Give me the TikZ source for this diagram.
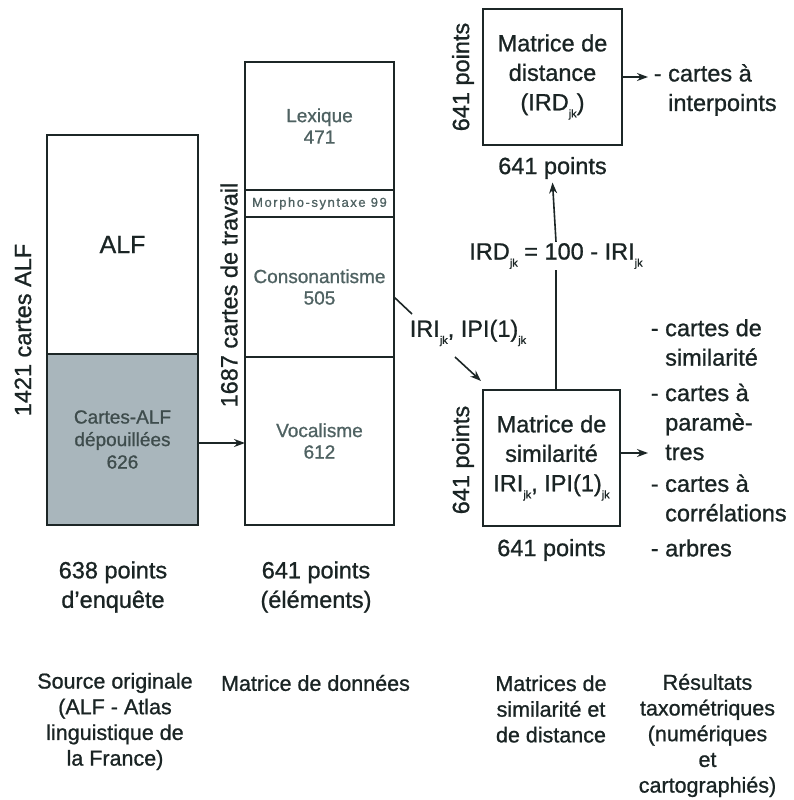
\documentclass[tikz,border=0pt]{standalone}
\usepackage{fontspec}
\setmainfont{Liberation Sans}[FakeBold=0.9]
\usetikzlibrary{arrows.meta}
\definecolor{lncol}{HTML}{1C2626}
\definecolor{txcol}{HTML}{1A2424}
\definecolor{incol}{HTML}{4F6262}
\definecolor{midcol}{HTML}{3E4C4C}
\definecolor{fillcol}{HTML}{A9B6BC}
\newcommand\jk{\raisebox{-0.3em}{\fontsize{11}{11}\selectfont jk}}
\tikzset{
  box/.style={draw=lncol, line width=1.6pt, inner sep=0pt, outer sep=0pt, align=center},
  big/.style={font=\fontsize{23.5}{29.5}\selectfont, text=txcol, align=center},
  innertext/.style={font=\fontsize{19}{21.5}\selectfont, text=incol},
  bot/.style={font=\fontsize{21.5}{25.7}\selectfont, text=txcol, align=center},
  conn/.style={draw=lncol, line width=1.6pt},
  arr/.style={conn, -{Stealth[length=11pt,width=8pt]}},
  lst/.style={font=\fontsize{23.5}{29.5}\selectfont, text=txcol, align=left, anchor=west, inner sep=0pt}
}
\begin{document}
\begin{tikzpicture}[x=1pt,y=-1pt]
\path[use as bounding box, fill=white] (0,0) rectangle (793,800);

% ALF column
\node[box, minimum width=151pt, minimum height=219pt, font=\fontsize{25}{25}\selectfont, text=txcol] (alfTop) at (122.5,244.5) {ALF};
\node[box, fill=fillcol, minimum width=151pt, minimum height=171pt, font=\fontsize{19}{22.5}\selectfont, text=midcol] (alfBot) at (122.5,439.5) {Cartes-ALF\\dépouillées\\626};
\node[big, rotate=90] (alfLab) at (23,330) {1421 cartes ALF};

% data matrix column
\node[box, innertext, minimum width=149pt, minimum height=128pt] (lex) at (319.5,126) {Lexique\\471};
\node[box, minimum width=149pt, minimum height=27pt, text=incol, font=\fontsize{13}{13}\selectfont\addfontfeature{LetterSpace=12}] (morph) at (319.5,203.5) {Morpho-syntaxe 99};
\node[box, innertext, minimum width=149pt, minimum height=140pt] (cons) at (319.5,287) {Consonantisme\\505};
\node[box, innertext, minimum width=149pt, minimum height=168pt] (voc) at (319.5,441) {Vocalisme\\612};
\node[big, rotate=90] (midLab) at (229,295) {1687 cartes de travail};

\draw[arr] (alfBot.east |- 0,443) -- (voc.west |- 0,443);

% distance matrix
\node[box, big, minimum width=139pt, minimum height=136pt] (dist) at (552.5,77) {Matrice de\\distance\\(IRD\jk)};
\node[big, rotate=90] (distLeft) at (463,77) {641 points};
\node[big] (distPts) at (552.5,168) {641 points};
\coordinate (distOut) at (648,77);
\draw[arr] (dist.east) -- (distOut);
\node[lst] (distRes) at (668,90) {\llap{- }cartes à\\interpoints};

% similarity matrix
\node[box, big, minimum width=137pt, minimum height=136pt] (sim) at (551.5,458) {Matrice de\\similarité\\IRI\jk, IPI(1)\jk};
\node[big, rotate=90] (simLeft) at (463,460) {641 points};
\node[big] (simPts) at (551.5,550) {641 points};
\coordinate (simOut) at (648,453);
\draw[arr] (sim.east |- simOut) -- (simOut);

% vertical arrow with formula
\node[big, inner sep=1pt] (eq) at (556,256) {IRD\jk{} = 100 - IRI\jk};
\draw[conn] (sim.north -| eq.south) -- (eq.south);
\draw[arr] (eq.north) -- (distPts.south);

% diagonal arrow from consonantisme
\coordinate (d1) at (394,297);
\coordinate (d2) at (412,314);
\coordinate (d3) at (455,357);
\coordinate (d4) at (481,381);
\node[big] (iri) at (468,333) {IRI\jk, IPI(1)\jk};
\draw[conn] (d1) -- (d2);
\draw[arr] (d3) -- (d4);

% results list
\node[lst] (r1) at (665,342.5) {\llap{- }cartes de\\similarité};
\node[lst] (r2) at (665,422) {\llap{- }cartes à\\paramè-\\tres};
\node[lst] (r3) at (665,498) {\llap{- }cartes à\\corrélations};
\node[lst] (r4) at (665,548) {\llap{- }arbres};

% bottom labels
\node[big] (p638) at (113,587) {638 points\\d’enquête};
\node[big] (p641) at (316,587) {641 points\\(éléments)};
\node[bot] (src) at (115,721.5) {Source originale\\(ALF - Atlas\\linguistique de\\la France)};
\node[bot] (mdd) at (315.5,683) {Matrice de données};
\node[bot] (msd) at (551,709) {Matrices de\\similarité et\\de distance};
\node[bot] (res) at (707.5,735.5) {Résultats\\taxométriques\\(numériques\\et\\cartographiés)};
\end{tikzpicture}
\end{document}
